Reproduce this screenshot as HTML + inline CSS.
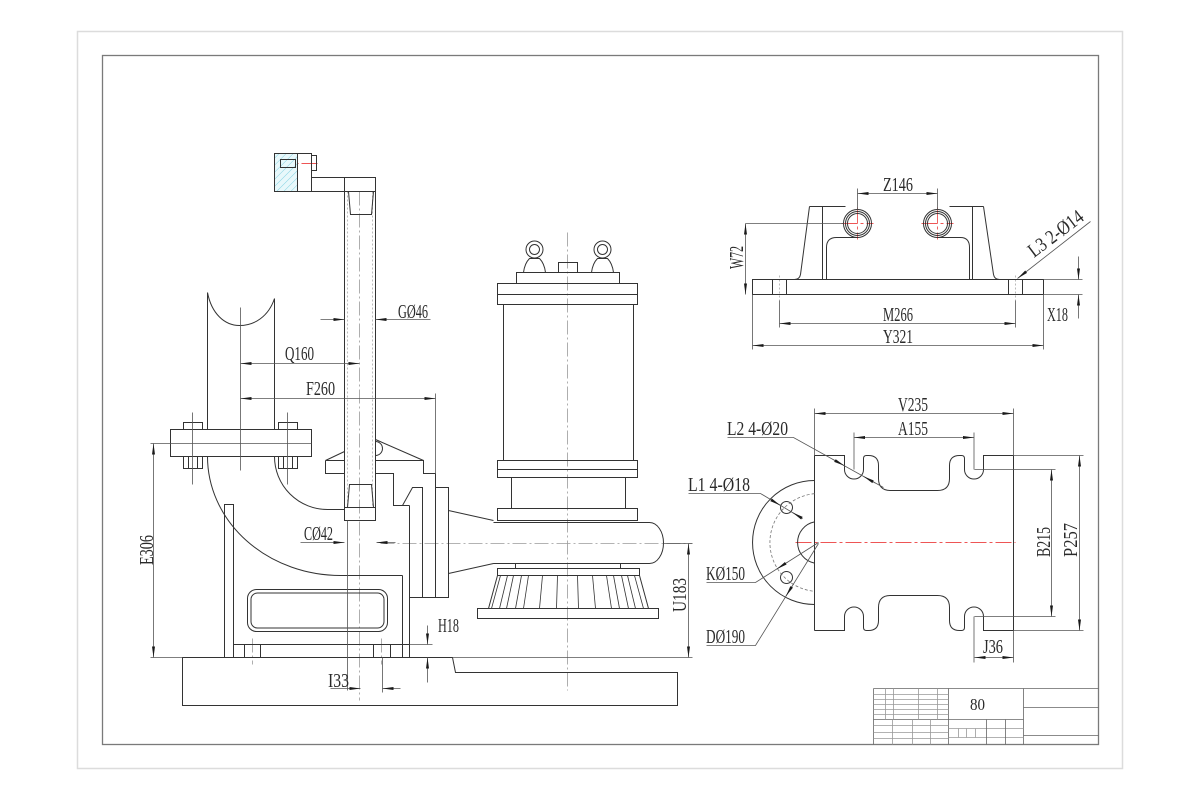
<!DOCTYPE html>
<html><head><meta charset="utf-8">
<style>
html,body{margin:0;padding:0;background:#fff;}
svg{display:block}
text{font-family:"Liberation Serif",serif;font-size:20px;fill:#2a2a2a}
</style></head><body>
<svg width="1200" height="800" viewBox="0 0 1200 800" xmlns="http://www.w3.org/2000/svg">
<defs>
<marker id="ar" markerUnits="userSpaceOnUse" markerWidth="12" markerHeight="6" refX="11" refY="3" orient="auto-start-reverse" viewBox="0 0 12 6"><path d="M0,1.5 L11,3 L0,4.5 Z" fill="#1a1a1a" stroke="none"/></marker>
<pattern id="hatch" width="5" height="5" patternUnits="userSpaceOnUse" patternTransform="rotate(45)"><rect width="5" height="5" fill="#e8f8fb"/><line x1="0" y1="0" x2="0" y2="5" stroke="#86d3e2" stroke-width="1"/></pattern>
</defs>
<rect x="0" y="0" width="1200" height="800" fill="#fff"/>
<rect x="77.5" y="31.5" width="1045" height="737" fill="none" stroke="#dcdcdc" stroke-width="1.5"/>
<rect x="102.5" y="55.5" width="996" height="689" fill="none" stroke="#7a7a7a" stroke-width="1.3"/>

<g transform="translate(0.5,0.5)">
<!-- centre lines -->
<g fill="none" stroke="#9a9a9a" stroke-width="0.8" stroke-dasharray="14 3 2 3">
<path d="M359,191 V700"/>
<path d="M567,232 V690"/>
<path d="M380,543 H692"/>
<path d="M252,638 V664 M381,638 V664"/>
</g>
<g fill="none" stroke="#aaa" stroke-width="0.8" stroke-dasharray="2 2">
<path d="M347,191 V507 M372,191 V507"/>
<path d="M779,275 V300 M1015,275 V300"/>
</g>
<g fill="none" stroke="#e55" stroke-width="0.9" stroke-dasharray="16 3 3 3">
<path d="M795,542 H1015"/>
<path d="M276,163 H318"/>
<path d="M841,223 H873 M857,207 V239 M921,223 H953 M937,207 V239"/>
</g>

<!-- main geometry -->
<g fill="none" stroke="#333" stroke-width="1">
<!-- top bracket -->
<rect x="274" y="153" width="23" height="38" fill="url(#hatch)"/>
<rect x="297" y="153" width="14" height="38"/>
<rect x="280" y="159" width="15" height="8"/>
<rect x="311" y="155" width="5" height="15"/>
<rect x="311" y="177" width="33" height="14"/>
<rect x="344" y="177" width="31" height="14"/>
<!-- rail -->
<path d="M344,191 V507 M375,191 V507"/>
<path d="M348,191 L350,214 L371,214 L373,191"/>
<path d="M349,484 L371,484 L373,507 L347,507 Z"/>
<rect x="344" y="507" width="31" height="13"/>
<!-- pipe -->
<path d="M207,292 V429 M274,298 V429"/>
<path d="M207,292 C211,313 224,325 239,325 C254,325 268,316 274,298"/>
<rect x="170" y="429" width="141" height="27"/>
<rect x="183" y="422" width="19" height="7"/><rect x="183" y="456" width="19" height="12"/>
<rect x="278" y="422" width="19" height="7"/><rect x="278" y="456" width="19" height="12"/>
<path d="M188,456 V468 M197,456 V468 M283,456 V468 M292,456 V468"/>
<path d="M207,456 A133,119 0 0 0 340,575 L402,575"/>
<path d="M274,456 A53,53 0 0 0 327,509 L344,509"/>
<!-- housing -->
<rect x="224" y="504" width="9" height="153"/>
<path d="M233,644 H409"/>
<path d="M402,575 V657 M409,505 V657"/>
<rect x="244" y="644" width="16" height="13"/>
<rect x="373" y="644" width="17" height="13"/>
<rect x="247" y="589" width="140" height="42" rx="9"/>
<rect x="250.5" y="592.5" width="133" height="35" rx="6.5"/>
<!-- guide claw -->
<path d="M325,460 L344,451 M325,460 V473 H344 M325,460 H344"/>
<path d="M375,439 L423,460 V473 H435 M375,460 H423"/>
<path d="M375,441 A7,7 0 0 1 375,455"/>
<path d="M375,473 H393 V505 H409"/>
<path d="M402,505 L412,487 H422 V597"/>
<path d="M435,473 V597 H409"/>
<path d="M435,487 H448 V597 H435"/>
<path d="M448,510 L493,520 M448,573 L493,563"/>
<!-- base plate -->
<path d="M182,657 H452 L455,672 H677 V705 H182 Z"/>
<!-- pump -->
<circle cx="534" cy="249" r="8.5"/><circle cx="534" cy="249" r="5"/>
<circle cx="602" cy="249" r="8.5"/><circle cx="602" cy="249" r="5"/>
<path d="M523,272 C524,264 527,260 529,258 H539 C541,260 544,264 545,272"/>
<path d="M591,272 C592,264 595,260 597,258 H607 C609,260 612,264 613,272"/>
<rect x="558" y="262" width="19" height="10"/>
<rect x="516" y="272" width="103" height="11"/>
<rect x="497" y="283" width="140" height="21"/>
<path d="M497,294 H637"/>
<rect x="503" y="304" width="130" height="156"/>
<rect x="497" y="460" width="140" height="17"/>
<path d="M497,469 H637"/>
<rect x="511" y="477" width="114" height="31"/>
<rect x="497" y="508" width="140" height="12"/>
<path d="M493,522 H649 A14,20.5 0 0 1 649,563 H493"/>
<path d="M515,563 V568 M620,563 V568"/>
<rect x="497" y="568" width="142" height="7"/>
<path d="M497,575 L488,608 M639,575 L648,608"/>
<path stroke-width="0.8" d="M500,575 L491,608 M507,575 L499,608 M513,575 L506,608 M521,575 L515,608 M528,575 L523,608 M542,575 L539,608 M557,575 L556,608 M577,575 L578,608 M592,575 L595,608 M606,575 L611,608 M613,575 L619,608 M621,575 L628,608 M627,575 L635,608 M634,575 L643,608"/>
<rect x="477" y="608" width="181" height="10"/>

<!-- top right view -->
<rect x="752" y="279" width="291" height="15"/>
<path d="M772,279 V294 M786,279 V294 M1008,279 V294 M1022,279 V294"/>
<path d="M809,206 L800,274 Q799,279 794,279"/>
<path d="M983,206 L993,274 Q994,279 999,279"/>
<path d="M822,206 V279 M972,206 V279"/>
<path d="M809,206 H845 M949,206 H983"/>
<path d="M826,279 V247 Q826,237 836,237 H857 M937,237 H960 Q969,237 969,247 V279"/>
<circle cx="857" cy="223" r="14"/><circle cx="857" cy="223" r="12"/><circle cx="857" cy="223" r="10"/>
<circle cx="937" cy="223" r="14"/><circle cx="937" cy="223" r="12"/><circle cx="937" cy="223" r="10"/>

<!-- bottom right view -->
<path d="M814,455 L844,455 L844,469 A9.5,9.5 0 0 0 863,469 L863,458 Q863,455 866,455 L868,455 Q878,455 878,465 L878,478 Q878,490 890,490 L937,490 Q949,490 949,478 L949,465 Q949,455 959,455 L961,455 Q964,455 964,458 L964,469 A9.5,9.5 0 0 0 983,469 L983,455 L1013,455"/>
<path d="M814,630 L844,630 L844,616 A9.5,9.5 0 0 1 863,616 L863,627 Q863,630 866,630 L868,630 Q878,630 878,620 L878,607 Q878,595 890,595 L937,595 Q949,595 949,607 L949,620 Q949,630 959,630 L961,630 Q964,630 964,627 L964,616 A9.5,9.5 0 0 1 983,616 L983,630 L1013,630"/>
<path d="M814,455 V630 M1013,455 V630"/>
<path d="M814,480 A62,62 0 0 0 814,604"/>
<path d="M814,521.4 A21,21 0 0 0 814,562.6"/>
<circle cx="786" cy="507" r="6"/>
<circle cx="786" cy="577" r="6"/>
</g>
<path d="M814,493.2 A49,49 0 0 0 814,590.8" fill="none" stroke="#777" stroke-width="0.8" stroke-dasharray="3 2"/>

<!-- dimension / extension lines -->
<g fill="none" stroke="#555" stroke-width="0.8">
<path d="M240,307 V470"/>
<path d="M192,412 V484 M287,412 V484"/>
<path d="M150,443 H311"/>
<path d="M150,657 H182 M452,657 H692"/>
<path d="M435,393 V473"/>
<path d="M663,543 H692"/>
<path d="M409,644 H432"/>
<path d="M347,520 V690 M382,657 V692"/>
<!-- top right ext -->
<path d="M745,223 H843"/>
<path d="M857,188 V209 M937,188 V209"/>
<path d="M779,300 V327 M1015,300 V327"/>
<path d="M752,294 V349 M1043,294 V349"/>
<path d="M1043,279 H1082 M1043,294 H1082"/>
<!-- bottom right ext -->
<path d="M814,455 V408 M1013,455 V408"/>
<path d="M853.5,469 V432 M973.5,469 V432"/>
<path d="M974,469 H1055 M974,616 H1055"/>
<path d="M1013,455 H1083 M1013,630 H1083"/>
<path d="M973.5,616 V662 M1013,630 V662"/>
<!-- leaders -->
<path d="M727,437 H793 L883,487"/>
<path d="M688,493 H760 L802,518"/>
<path d="M706,582 H755 L818,542"/>
<path d="M706,645 H755 L818,543"/>
<!-- inside-arrow dims -->
<g marker-start="url(#ar)" marker-end="url(#ar)">
<line x1="240" y1="363" x2="359" y2="363"/>
<line x1="240" y1="398" x2="435" y2="398"/>
<line x1="153" y1="443" x2="153" y2="657"/>
<line x1="688" y1="543" x2="688" y2="657"/>
<line x1="857" y1="193" x2="937" y2="193"/>
<line x1="745" y1="223" x2="745" y2="294"/>
<line x1="779" y1="323" x2="1015" y2="323"/>
<line x1="752" y1="345" x2="1043" y2="345"/>
<line x1="814" y1="413" x2="1013" y2="413"/>
<line x1="853.5" y1="437" x2="973.5" y2="437"/>
<line x1="1051" y1="469" x2="1051" y2="616"/>
<line x1="1079" y1="455" x2="1079" y2="630"/>
<line x1="974" y1="657" x2="1013" y2="657"/>
</g>
<!-- outside arrows -->
<g marker-end="url(#ar)">
<line x1="320" y1="319" x2="344" y2="319"/>
<line x1="430" y1="319" x2="375" y2="319"/>
<line x1="300" y1="542" x2="344" y2="542"/>
<line x1="395" y1="542" x2="376" y2="542"/>
<line x1="427" y1="625" x2="427" y2="644"/>
<line x1="427" y1="682" x2="427" y2="657"/>
<line x1="330" y1="688" x2="360" y2="688"/>
<line x1="400" y1="688" x2="382" y2="688"/>
<line x1="1078" y1="256" x2="1078" y2="279"/>
<line x1="1078" y1="318" x2="1078" y2="294"/>
<line x1="1090" y1="221" x2="1017" y2="278"/>
<line x1="832" y1="458.7" x2="844" y2="465.3"/>
<line x1="875" y1="482.6" x2="863" y2="475.9"/>
<line x1="770" y1="499" x2="780" y2="505"/>
<line x1="802" y1="518" x2="792" y2="512"/>
<line x1="787" y1="561.7" x2="776" y2="568.7"/>
<line x1="791.7" y1="585.5" x2="785.4" y2="595.7"/>
</g>
</g>

<!-- title block -->
<g fill="none" stroke="#666" stroke-width="0.8">
<path d="M873,688 H1098 M873,688 V744 M948,688 V744 M1023,688 V744"/>
<path d="M873,719 H1023"/>
<path d="M1023,707 H1098 M1023,735 H1098"/>
<path d="M873,694 H948 M873,699 H948 M873,704 H948 M873,709 H948 M873,714 H948" stroke="#999"/>
<path d="M885,688 V719 M893,688 V719 M918,688 V719 M937,688 V719" stroke="#999"/>
<path d="M873,725 H948 M873,732 H948 M873,738 H948" stroke="#999"/>
<path d="M892,719 V744 M912,719 V744 M930,719 V744" stroke="#999"/>
<path d="M948,728 H1023 M948,737 H1023" stroke="#999"/>
<path d="M986,719 V744 M1005,719 V744"/>
<path d="M958,728 V737 M966,728 V737 M975,728 V737" stroke="#999"/>
</g>
</g>

<!-- labels -->
<text x="398" y="318" textLength="30" lengthAdjust="spacingAndGlyphs">GØ46</text>
<text x="285" y="360" textLength="29" lengthAdjust="spacingAndGlyphs">Q160</text>
<text x="306" y="395" textLength="29" lengthAdjust="spacingAndGlyphs">F260</text>
<text x="304" y="540" textLength="29" lengthAdjust="spacingAndGlyphs">CØ42</text>
<text transform="translate(153,550) rotate(-90)" x="-15" y="0" textLength="30" lengthAdjust="spacingAndGlyphs">E306</text>
<text x="438" y="632" textLength="21" lengthAdjust="spacingAndGlyphs">H18</text>
<text x="328" y="687" textLength="21" lengthAdjust="spacingAndGlyphs">I33</text>
<text transform="translate(686,595) rotate(-90)" x="-17" y="0" textLength="34" lengthAdjust="spacingAndGlyphs">U183</text>
<text x="883" y="191" textLength="30" lengthAdjust="spacingAndGlyphs">Z146</text>
<text transform="translate(743,258) rotate(-90)" x="-11" y="0" textLength="23" lengthAdjust="spacingAndGlyphs">W72</text>
<text x="883" y="321" textLength="30" lengthAdjust="spacingAndGlyphs">M266</text>
<text x="883" y="343" textLength="30" lengthAdjust="spacingAndGlyphs">Y321</text>
<text x="1047" y="321" textLength="21" lengthAdjust="spacingAndGlyphs">X18</text>
<text transform="translate(1034,258) rotate(-37)" x="0" y="0" textLength="64" lengthAdjust="spacingAndGlyphs">L3 2-Ø14</text>
<text x="898" y="411" textLength="30" lengthAdjust="spacingAndGlyphs">V235</text>
<text x="898" y="435" textLength="30" lengthAdjust="spacingAndGlyphs">A155</text>
<text x="727" y="435" textLength="61" lengthAdjust="spacingAndGlyphs">L2 4-Ø20</text>
<text x="688" y="491" textLength="62" lengthAdjust="spacingAndGlyphs">L1 4-Ø18</text>
<text x="706" y="580" textLength="39" lengthAdjust="spacingAndGlyphs">KØ150</text>
<text x="706" y="643" textLength="39" lengthAdjust="spacingAndGlyphs">DØ190</text>
<text transform="translate(1050,542) rotate(-90)" x="-15" y="0" textLength="30" lengthAdjust="spacingAndGlyphs">B215</text>
<text transform="translate(1077,540) rotate(-90)" x="-17" y="0" textLength="34" lengthAdjust="spacingAndGlyphs">P257</text>
<text x="983" y="653" textLength="20" lengthAdjust="spacingAndGlyphs">J36</text>
<text x="970" y="710" textLength="15" lengthAdjust="spacingAndGlyphs" style="font-size:17px">80</text>
</svg>
</body></html>
